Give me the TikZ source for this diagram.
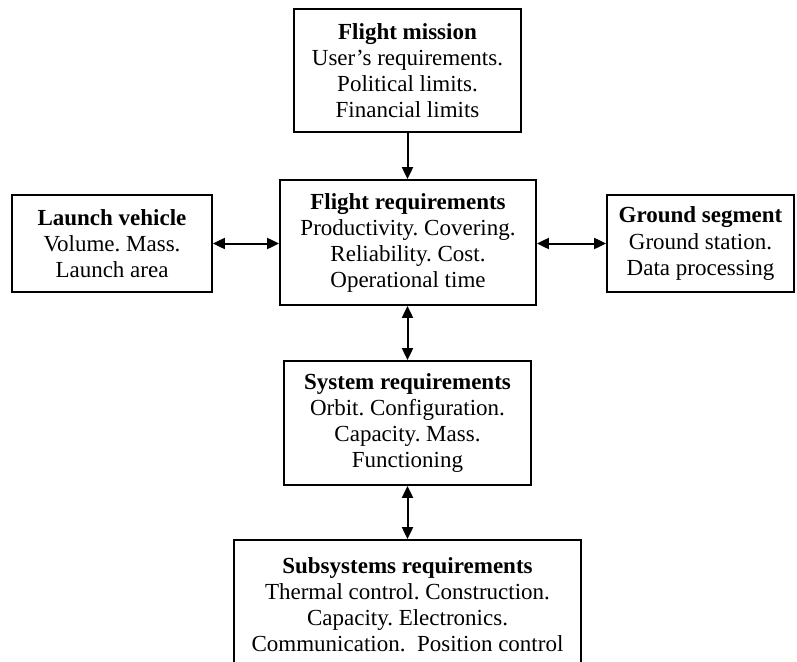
\documentclass[tikz,border=0pt]{standalone}
\usepackage{fontspec}
\setmainfont{Liberation Serif}
\usetikzlibrary{arrows.meta}
\frenchspacing
\begin{document}
\begin{tikzpicture}[x=1pt,y=-1pt,
  blk/.style={draw,line width=1.8pt,align=center,font=\fontsize{23}{26}\selectfont,inner sep=0pt},
  conn/.style={line width=2pt,-{Triangle[length=12pt,width=11pt]}},
  biconn/.style={line width=2pt,{Triangle[length=12pt,width=11pt]}-{Triangle[length=12pt,width=11pt]}}]
\useasboundingbox (0,0) rectangle (797,661);
\clip (0,0) rectangle (797,661);
\node[blk,minimum width=227pt,minimum height=123pt] (fm) at (407.5,70.5)
  {\textbf{Flight mission}\\User's requirements.\\Political limits.\\Financial limits};
\node[blk,minimum width=256pt,minimum height=125pt] (fr) at (408,242.5)
  {\textbf{Flight requirements}\\Productivity. Covering.\\Reliability. Cost.\\Operational time};
\node[blk,minimum width=200pt,minimum height=97pt] (lv) at (112,243.5)
  {\textbf{Launch vehicle}\\Volume. Mass.\\Launch area};
\node[blk,minimum width=187pt,minimum height=97pt] (gs) at (700.5,243.5)
  {\textbf{Ground segment}\\Ground station.\\Data processing};
\node[blk,minimum width=247pt,minimum height=124pt] (sr) at (407.5,423)
  {\textbf{System requirements}\\Orbit. Configuration.\\Capacity. Mass.\\Functioning};
\node[blk,minimum width=347pt,minimum height=130pt] (ss) at (407.5,605)
  {\textbf{Subsystems requirements}\\Thermal control. Construction.\\Capacity. Electronics.\\Communication.~ Position control};
\draw[conn] (fm.south) -- (fm.south |- fr.north);
\draw[biconn] (lv.east) -- (lv.east -| fr.west);
\draw[biconn] (gs.west -| fr.east) -- (gs.west);
\draw[biconn] (sr.north |- fr.south) -- (sr.north);
\draw[biconn] (sr.south) -- (ss.north);
\end{tikzpicture}
\end{document}
